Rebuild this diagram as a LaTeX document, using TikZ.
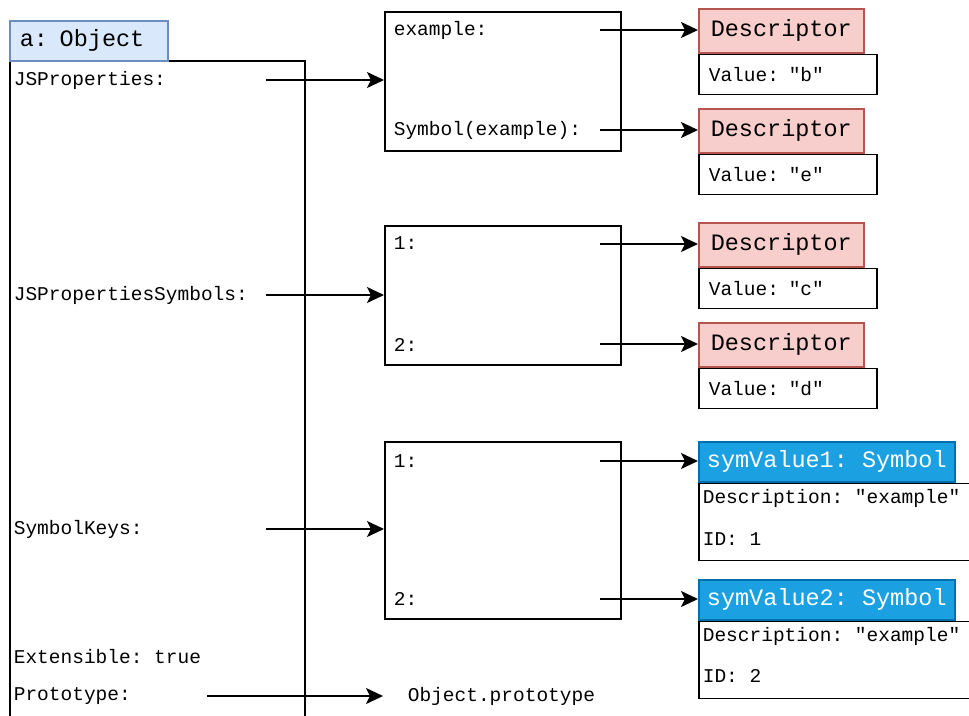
\documentclass[tikz,border=0pt]{standalone}
\usepackage{fontspec}
\setmonofont{Liberation Mono}
\usepackage{xcolor}
\usetikzlibrary{positioning,arrows.meta}

\definecolor{objfill}{HTML}{DAE8FC}
\definecolor{objline}{HTML}{6C8EBF}
\definecolor{descfill}{HTML}{F8CECC}
\definecolor{descline}{HTML}{B85450}
\definecolor{symfill}{HTML}{1BA1E2}
\definecolor{symline}{HTML}{006EAF}

\newcommand{\smalltt}{\ttfamily\fontsize{19.5}{23}\selectfont}
\newcommand{\bigtt}{\ttfamily\fontsize{23.5}{28}\selectfont}

\tikzset{
	box/.style={draw,rectangle,anchor=north west,inner sep=0pt},
	lbl/.style={anchor=west,inner sep=0pt,font=\smalltt},
	title/.style={box,draw=objline,fill=objfill,font=\bigtt,text width=138pt,align=left,inner xsep=10pt,minimum height=40pt},
	desc/.style={box,draw=descline,fill=descfill,font=\bigtt,minimum width=165pt,minimum height=44pt},
	valbox/.style={box,font=\smalltt,text width=158pt,align=left,inner xsep=10pt,minimum height=40pt},
	symhead/.style={box,draw=symline,fill=symfill,text=white,font=\bigtt,minimum width=256pt,minimum height=40pt},
}

\begin{document}
\begin{tikzpicture}[x=1pt,y=-1pt,line width=1.6pt,>={Stealth[length=17pt,width=16pt,inset=4pt]}]
	\clip (0,0) rectangle (969,715);

	% the object and its slots
	\node[box,minimum width=295pt,minimum height=700pt] (obj) at (9,60) {};
	\node[title] (objname) at (9,20) {a: Object};
	\node[lbl] (jsp) at (13,80) {JSProperties:};
	\node[lbl] (jsps) at (13,295) {JSPropertiesSymbols:};
	\node[lbl] (symkeys) at (13,529) {SymbolKeys:};
	\node[lbl] (ext) at (13,657) {Extensible: true};
	\node[lbl] (proto) at (13,696) {Prototype:};

	% property tables
	\node[box,minimum width=236pt,minimum height=139pt] (props) at (384,11) {};
	\node[lbl] (pex) at (393,30) {example:};
	\node[lbl] (psym) at (393,130) {Symbol(example):};

	\node[box,minimum width=236pt,minimum height=139pt] (psyms) at (384,225) {};
	\node[lbl] (ps1) at (393,243) {1:};
	\node[lbl] (ps2) at (393,345) {2:};

	\node[box,minimum width=236pt,minimum height=177pt] (keys) at (384,441) {};
	\node[lbl] (k1) at (393,461) {1:};
	\node[lbl] (k2) at (393,599) {2:};

	% descriptors
	\node[desc] (d1) at (698,8) {Descriptor};
	\node[valbox,below=0pt of d1.south west,anchor=north west] (v1) {Value: "b"};
	\node[desc] (d2) at (698,108) {Descriptor};
	\node[valbox,below=0pt of d2.south west,anchor=north west] (v2) {Value: "e"};
	\node[desc] (d3) at (698,222) {Descriptor};
	\node[valbox,below=0pt of d3.south west,anchor=north west] (v3) {Value: "c"};
	\node[desc] (d4) at (698,322) {Descriptor};
	\node[valbox,below=0pt of d4.south west,anchor=north west] (v4) {Value: "d"};

	% symbols
	\node[symhead] (s1) at (698,441) {symValue1: Symbol};
	\node[box,minimum width=300pt,minimum height=77pt,below=0pt of s1.south west,anchor=north west] (s1body) {};
	\node[lbl] (s1desc) at (702,498) {Description: "example"};
	\node[lbl] (s1id) at (702,539) {ID: 1};
	\node[symhead] (s2) at (698,579) {symValue2: Symbol};
	\node[box,minimum width=300pt,minimum height=77pt,below=0pt of s2.south west,anchor=north west] (s2body) {};
	\node[lbl] (s2desc) at (702,636) {Description: "example"};
	\node[lbl] (s2id) at (702,676) {ID: 2};

	\node[lbl,inner xsep=24pt] (protoval) at (383,696) {Object.prototype};

	% arrows
	\coordinate (jsp-out) at (266,80);
	\coordinate (jsps-out) at (266,295);
	\coordinate (keys-out) at (266,529);
	\coordinate (proto-out) at (207,696);
	\coordinate (pex-out) at (600,30);
	\coordinate (psym-out) at (600,130);
	\coordinate (ps1-out) at (600,244);
	\coordinate (ps2-out) at (600,344);
	\coordinate (k1-out) at (600,461);
	\coordinate (k2-out) at (600,599);

	\draw[->] (jsp-out) -- (jsp-out -| props.west);
	\draw[->] (jsps-out) -- (jsps-out -| psyms.west);
	\draw[->] (keys-out) -- (keys-out -| keys.west);
	\draw[->] (proto-out) -- (protoval.west);
	\draw[->] (pex-out) -- (pex-out -| d1.west);
	\draw[->] (psym-out) -- (psym-out -| d2.west);
	\draw[->] (ps1-out) -- (ps1-out -| d3.west);
	\draw[->] (ps2-out) -- (ps2-out -| d4.west);
	\draw[->] (k1-out) -- (k1-out -| s1.west);
	\draw[->] (k2-out) -- (k2-out -| s2.west);
\end{tikzpicture}
\end{document}
